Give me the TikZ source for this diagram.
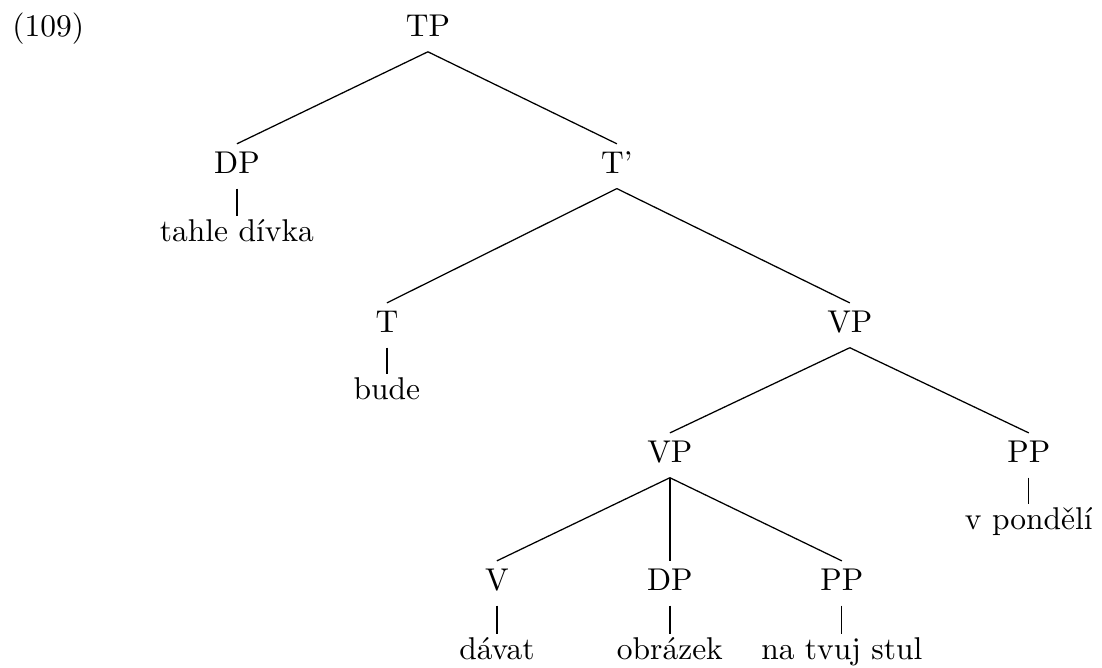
\documentclass[tikz,border=0pt]{standalone}
\usepackage{tikz}

\begin{document}
\begin{tikzpicture}[every node/.style={inner sep=2.5pt, text height=6.83pt, text depth=2pt, anchor=base},
		word/.style={text height=5.5pt}]
			% Fix the page size
			\useasboundingbox (0,0) rectangle (12.30,-7.454);

			\node[anchor=base west, inner sep=0pt] (Num) at (0.13,-0.413) {(109)};

			% Draw the labels of the tree
			\node (TP) at (4.776,-0.413) {TP};
			\node (DPa) at (2.645,-1.94) {DP};
			\node (Tbar) at (6.885,-1.94) {T'};
			\node (T) at (4.318,-3.716) {T};
			\node (VPa) at (9.485,-3.716) {VP};
			\node (VPb) at (7.477,-5.167) {VP};
			\node (PPa) at (11.483,-5.167) {PP};
			\node (V) at (5.546,-6.595) {V};
			\node (DPb) at (7.477,-6.595) {DP};
			\node (PPb) at (9.396,-6.595) {PP};

			% Draw the words under the tree
			\node[word] (Subj) at (2.645,-2.70) {tahle dívka};
			\node[word] (Aux) at (4.318,-4.464) {bude};
			\node[word] (Adv) at (11.483,-5.914) {v pondělí};
			\node[word] (Verb) at (5.546,-7.365) {dávat};
			\node[word] (Obj) at (7.477,-7.365) {obrázek};
			\node[word] (Goal) at (9.396,-7.365) {na tvuj stul};

			% Draw the branches
			\draw[-] (TP.south) -- (DPa.north);
			\draw[-] (TP.south) -- (Tbar.north);
			\draw[-] (Tbar.south) -- (T.north);
			\draw[-] (Tbar.south) -- (VPa.north);
			\draw[-] (VPa.south) -- (VPb.north);
			\draw[-] (VPa.south) -- (PPa.north);
			\draw[-] (VPb.south) -- (V.north);
			\draw[-] (VPb.south) -- (DPb.north);
			\draw[-] (VPb.south) -- (PPb.north);

			% Draw the lines down to the words
			\draw[-] (DPa.south) -- (Subj.north);
			\draw[-] (T.south) -- (Aux.north);
			\draw[-] (PPa.south) -- (Adv.north);
			\draw[-] (V.south) -- (Verb.north);
			\draw[-] (DPb.south) -- (Obj.north);
			\draw[-] (PPb.south) -- (Goal.north);

		\end{tikzpicture}
\end{document}
